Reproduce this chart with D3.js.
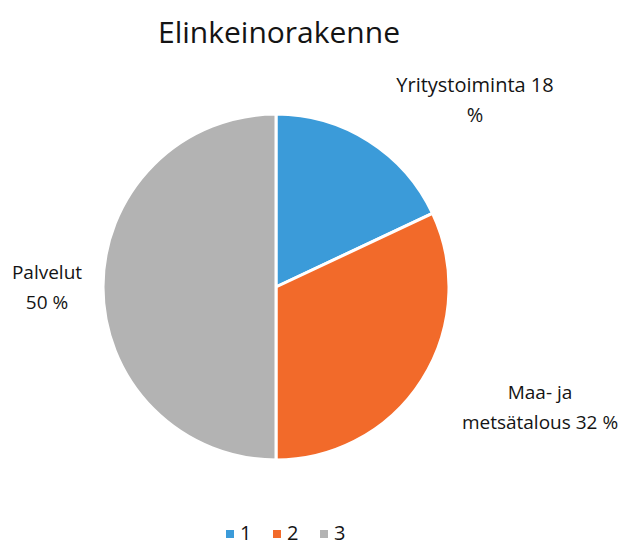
<!DOCTYPE html>
<html>
<head>
<meta charset="utf-8">
<style>
  body { margin: 0; background: #fff; }
  svg text { font-family: "Open Sans", "Noto Sans", sans-serif; fill: #141414; }
</style>
</head>
<body>
<div id="chart"></div>
<script src="https://d3js.org/d3.v7.min.js"></script>
<script>
// chart data
var categories = ["1", "2", "3"]
var values = [18, 32, 50]
var labels = [["Yritystoiminta 18", "%"], ["Maa- ja", "metsätalous 32 %"], ["Palvelut", "50 %"]]
var colors = ["#3b9bd9", "#f26a2a", "#b3b3b3"]

var width = 626, height = 549
var cx = 276, cy = 287, radius = 173

var svg = d3.select("#chart").append("svg")
    .attr("width", width)
    .attr("height", height)

svg.append("text")
    .attr("x", 279).attr("y", 43)
    .attr("text-anchor", "middle")
    .style("font-size", "30px")
    .text("Elinkeinorakenne")

var pie = d3.pie().sort(null).value(function(d) { return d })
var arcs = pie(values)
var arc = d3.arc().innerRadius(0).outerRadius(radius)

var g = svg.append("g").attr("transform", "translate(" + cx + "," + cy + ")")

g.selectAll("path")
    .data(arcs)
    .enter()
    .append("path")
    .attr("d", arc)
    .attr("fill", function(d, i) { return colors[i] })
    .attr("stroke", "#fff")
    .style("stroke-width", "3px")

// label positions (outside the pie)
var labelPos = [[475, 92], [540, 399], [47, 279]]
var labelSize = ["20px", "19px", "19px"]
labels.forEach(function(lines, i) {
  var t = svg.append("text")
      .attr("text-anchor", "middle")
      .style("font-size", labelSize[i])
  lines.forEach(function(line, j) {
    t.append("tspan")
      .attr("x", labelPos[i][0])
      .attr("y", labelPos[i][1] + j * 30)
      .text(line)
  })
})

// legend
var legend = svg.append("g").attr("transform", "translate(226,540)")
var item = legend.selectAll("g")
    .data(categories)
    .enter()
    .append("g")
    .attr("transform", function(d, i) { return "translate(" + (i * 47) + ",0)" })
item.append("rect")
    .attr("x", 0).attr("y", -10)
    .attr("width", 8).attr("height", 8)
    .attr("fill", function(d, i) { return colors[i] })
item.append("text")
    .attr("x", 14).attr("y", 0)
    .style("font-size", "20px")
    .text(function(d) { return d })
</script>
</body>
</html>
